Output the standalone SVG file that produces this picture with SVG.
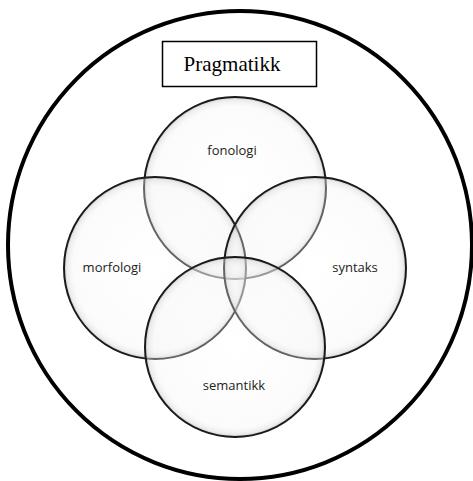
<svg xmlns="http://www.w3.org/2000/svg" width="473" height="481" viewBox="0 0 473 481">
<style>
.c{fill:url(#g);stroke:#1a1a1a;stroke-width:2}
.l{font-family:"Open Sans","Liberation Sans",sans-serif;font-size:13px;fill:#222;text-anchor:middle}
</style>
<defs>
<radialGradient id="g" cx="0.5" cy="0.5" r="0.5">
<stop offset="0" stop-color="#ffffff" stop-opacity="0.3"/>
<stop offset="0.9" stop-color="#f4f4f4" stop-opacity="0.35"/>
<stop offset="0.97" stop-color="#d8d8d8" stop-opacity="0.5"/>
<stop offset="1" stop-color="#999" stop-opacity="0.6"/>
</radialGradient>
</defs>
<rect width="473" height="481" fill="#fff"/>
<g id="pragmatikk">
<ellipse cx="240" cy="245" rx="232" ry="234" fill="none" stroke="#000" stroke-width="4"/>
<rect x="162.5" y="41.5" width="154" height="45" fill="#fff" stroke="#000" stroke-width="1.5"/>
<text x="232" y="71" font-family="Liberation Serif,serif" font-size="21" text-anchor="middle" fill="#000">Pragmatikk</text>
</g>
<g id="fonologi"><circle class="c" cx="235" cy="188" r="91"/></g>
<g id="morfologi"><circle class="c" cx="155" cy="268" r="91"/></g>
<g id="syntaks"><circle class="c" cx="315" cy="268" r="91"/></g>
<g id="semantikk"><circle class="c" cx="235" cy="347" r="90"/></g>
<g id="labels">
<text class="l" x="232" y="155">fonologi</text>
<text class="l" x="112" y="272">morfologi</text>
<text class="l" x="355" y="272">syntaks</text>
<text class="l" x="234" y="390">semantikk</text>
</g>
</svg>
